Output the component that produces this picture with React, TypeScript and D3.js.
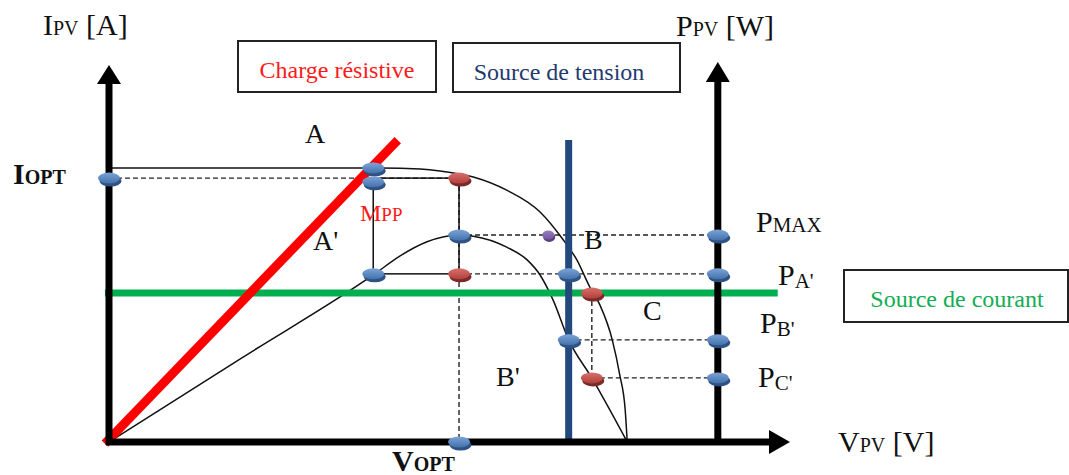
import React from 'react';
import * as d3 from 'd3';

const W = 1069;
const H = 475;

// Voltage / current / power are expressed in relative units (0–100 of each axis span).
// I–V characteristic of the PV generator
const ivVoltage = [0, 39.8, 45.7, 48.6, 53.5, 58.4, 63.3, 66.5, 68.7, 70.6, 72.1, 73.9, 75.0, 75.8, 76.1];
const ivCurrent = [72.7, 72.7, 72.4, 71.9, 70.3, 66.8, 61.0, 54.1, 48.3, 41.1, 36.3, 27.1, 17.8, 8.5, 0];

// P–V characteristic
const pvVoltage = [0, 19.4, 38.8, 42.7, 46.7, 51.4, 53.5, 58.4, 61.4, 63.3, 65.2, 67.5, 70.9, 76.1];
const pvPower = [0, 22.2, 44.3, 49.3, 53.1, 54.9, 54.6, 51.7, 48.3, 44.3, 37.7, 27.1, 17.0, 0];

// Operating quantities
const V_OPT = 51.4;
const I_OPT = 70.0;
const V_A = 38.8;
const I_A = 72.7;
const P_A = 44.6;
const V_SOURCE = 67.5; // voltage source line
const I_SOURCE = 39.5; // current source line
const V_C = 70.9;
const V_P_AXIS = 89.4; // position of the power axis on the voltage scale
const RES_END_V = 42.4;
const RES_END_I = 80.1;
const V_SOURCE_TOP = 80.1;

// Power levels read on the power axis
const powerLevels = [54.9, 44.6, 27.1, 17.0];
const powerNames = ['MAX', "A'", "B'", "C'"];

// Operating-point markers
const markerV = [0, V_A, V_A, V_OPT, V_OPT, V_A, V_OPT, 64.5, V_SOURCE, V_C, V_SOURCE, V_C, V_OPT];
const markerY = [I_OPT, I_A, 69.0, I_OPT, 54.9, P_A, P_A, 54.9, P_A, I_SOURCE, 27.1, 17.0, 0];
const markerKind = ['b', 'b', 'b', 'r', 'b', 'b', 'r', 'p', 'b', 'r', 'b', 'r', 'b'];

const x = d3.scaleLinear().domain([0, 100]).range([109, 790]);
const y = d3.scaleLinear().domain([0, 100]).range([442, 65]);

const FONT = '"Liberation Serif", "Times New Roman", serif';

function Dot({ cx, cy, kind }: { cx: number; cy: number; kind: string }) {
  if (kind === 'p') {
    return (
      <g>
        <ellipse cx={cx + 1} cy={cy + 2} rx={6} ry={5} fill="#5b3f7e" />
        <ellipse cx={cx} cy={cy} rx={6} ry={4.5} fill="url(#gPurple)" />
      </g>
    );
  }
  const blue = kind === 'b';
  return (
    <g>
      <ellipse cx={cx + 1.5} cy={cy + 3} rx={11} ry={5.5} fill={blue ? '#2d5283' : '#7c2a27'} />
      <ellipse cx={cx} cy={cy} rx={11} ry={5.5} fill={blue ? 'url(#gBlue)' : 'url(#gRed)'} />
    </g>
  );
}

function Label({
  px, py, main, sub, rest, size = 30, subSize = 20, fill = '#111', weight = 'normal', subDy = 0,
}: {
  px: number; py: number; main: string; sub?: string; rest?: string; size?: number;
  subSize?: number; fill?: string; weight?: string; subDy?: number;
}) {
  return (
    <text x={px} y={py} fontFamily={FONT} fontSize={size} fill={fill} fontWeight={weight}>
      {main}
      {sub ? <tspan fontSize={subSize} dy={subDy}>{sub}</tspan> : null}
      {rest ? <tspan dy={-subDy}>{rest}</tspan> : null}
    </text>
  );
}

export default function App() {
  const ivLine = d3
    .line<number>()
    .x((_, i) => x(ivVoltage[i]))
    .y((d) => y(d))
    .curve(d3.curveMonotoneX);
  const pvLine = d3
    .line<number>()
    .x((_, i) => x(pvVoltage[i]))
    .y((d) => y(d))
    .curve(d3.curveMonotoneX);

  const x0 = x(0);
  const y0 = y(0);
  const xEnd = x(100);
  const yTop = y(100);
  const xP = x(V_P_AXIS);

  const dash = { stroke: '#222', strokeWidth: 1.4, strokeDasharray: '5 3', fill: 'none' };

  return (
    <svg
      width={W}
      height={H}
      viewBox={`0 0 ${W} ${H}`}
      style={{ position: 'absolute', left: 0, top: 0, background: '#fff', display: 'block' }}
    >
      <defs>
        <linearGradient id="gBlue" x1="0" y1="0" x2="0" y2="1">
          <stop offset="0" stopColor="#7ba4d8" />
          <stop offset="1" stopColor="#4471ab" />
        </linearGradient>
        <linearGradient id="gRed" x1="0" y1="0" x2="0" y2="1">
          <stop offset="0" stopColor="#d9706b" />
          <stop offset="1" stopColor="#b0403c" />
        </linearGradient>
        <linearGradient id="gPurple" x1="0" y1="0" x2="0" y2="1">
          <stop offset="0" stopColor="#9a7dc0" />
          <stop offset="1" stopColor="#7155a0" />
        </linearGradient>
      </defs>
      <rect width={W} height={H} fill="#fff" />

      {/* Legend boxes */}
      <rect x={238} y={41} width={198} height={51} fill="#fff" stroke="#222" strokeWidth={2} />
      <text x={337} y={78} textAnchor="middle" fontFamily={FONT} fontSize={24} fill="#ff1a1a">
        Charge résistive
      </text>
      <rect x={453} y={43} width={227} height={49} fill="#fff" stroke="#222" strokeWidth={2} />
      <text x={559} y={80} textAnchor="middle" fontFamily={FONT} fontSize={24} fill="#1f3a6e">
        Source de tension
      </text>
      <rect x={844} y={270} width={224} height={52} fill="#fff" stroke="#222" strokeWidth={2} />
      <text x={957} y={307} textAnchor="middle" fontFamily={FONT} fontSize={24} fill="#12ad55">
        Source de courant
      </text>

      {/* Projection lines */}
      <line x1={x0} y1={y(I_OPT)} x2={x(V_OPT)} y2={y(I_OPT)} {...dash} />
      <line x1={x(V_OPT)} y1={y(I_OPT)} x2={x(V_OPT)} y2={y0} {...dash} />
      {powerLevels.map((p, i) => {
        const start = i < 2 ? V_OPT : i === 2 ? V_SOURCE : V_C;
        return <line key={i} x1={x(start)} y1={y(p)} x2={xP} y2={y(p)} {...dash} />;
      })}
      <line x1={x(V_C)} y1={y(I_SOURCE)} x2={x(V_C)} y2={y(17.0)} {...dash} />

      {/* MPP rectangle */}
      <rect
        x={x(V_A)}
        y={y(I_OPT)}
        width={x(V_OPT) - x(V_A)}
        height={y(P_A) - y(I_OPT)}
        fill="none"
        stroke="#111"
        strokeWidth={1.5}
      />

      {/* Characteristics */}
      <path d={ivLine(ivCurrent) || ''} fill="none" stroke="#111" strokeWidth={1.5} />
      <path d={pvLine(pvPower) || ''} fill="none" stroke="#111" strokeWidth={1.5} />

      {/* Current source */}
      <line x1={x(-0.6)} y1={y(I_SOURCE)} x2={x(98.2)} y2={y(I_SOURCE)} stroke="#00b050" strokeWidth={7} />
      {/* Resistive load */}
      <line x1={x(-0.6)} y1={y(-0.4)} x2={x(RES_END_V)} y2={y(RES_END_I)} stroke="#ff0000" strokeWidth={9} />
      {/* Voltage source */}
      <line x1={x(V_SOURCE)} y1={y(V_SOURCE_TOP)} x2={x(V_SOURCE)} y2={y0} stroke="#23497c" strokeWidth={7} />

      {/* Axes */}
      <line x1={x0} y1={y0 + 3} x2={x0} y2={yTop + 16} stroke="#000" strokeWidth={7} />
      <path d={`M${x0},${yTop} L${x0 - 12},${yTop + 19} L${x0 + 12},${yTop + 19} Z`} fill="#000" />
      <line x1={x0 - 3} y1={y0} x2={xEnd - 16} y2={y0} stroke="#000" strokeWidth={7} />
      <path d={`M${xEnd},${y0} L${xEnd - 21},${y0 - 12} L${xEnd - 21},${y0 + 12} Z`} fill="#000" />
      <line x1={xP} y1={y0} x2={xP} y2={yTop + 13} stroke="#000" strokeWidth={7} />
      <path d={`M${xP},${yTop - 3} L${xP - 12},${yTop + 17} L${xP + 12},${yTop + 17} Z`} fill="#000" />

      {/* Markers */}
      {markerV.map((v, i) => (
        <Dot key={i} cx={x(v)} cy={y(markerY[i])} kind={markerKind[i]} />
      ))}
      {powerLevels.map((p, i) => (
        <Dot key={'p' + i} cx={xP} cy={y(p)} kind="b" />
      ))}

      {/* Axis titles */}
      <Label px={43} py={35} main="I" sub="PV" rest=" [A]" />
      <Label px={676} py={36} main="P" sub="PV" rest=" [W]" />
      <Label px={838} py={452} main="V" sub="PV" rest=" [V]" />
      <Label px={13} py={184} main="I" sub="OPT" weight="bold" />
      <Label px={392} py={471} main="V" sub="OPT" weight="bold" />

      {/* Region / point labels */}
      <Label px={305} py={143} main="A" size={28} />
      <Label px={313} py={250} main="A'" size={28} />
      <Label px={360} py={221} main="M" sub="PP" size={24} subSize={19} fill="#ff1a1a" />
      <Label px={584} py={249} main="B" size={28} />
      <Label px={643} py={320} main="C" size={28} />
      <Label px={496} py={386} main="B'" size={28} />
      {powerNames.map((n, i) => {
        const pos = [
          [756, 232],
          [778, 285],
          [760, 333],
          [758, 387],
        ][i];
        return <Label key={n} px={pos[0]} py={pos[1]} main="P" sub={n} size={30} subSize={21} subDy={i === 0 ? 0 : 3} />;
      })}
    </svg>
  );
}
